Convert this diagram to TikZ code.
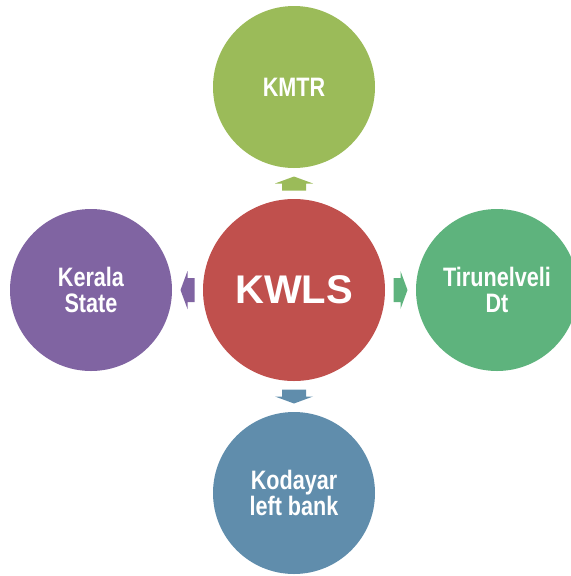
\documentclass[tikz,border=0pt]{standalone}
\usepackage{fontspec}
\setmainfont{Liberation Sans}
\newfontfamily\narrowfont[FakeStretch=0.81]{Liberation Sans}
\usetikzlibrary{positioning,calc}

\definecolor{kwlsred}{HTML}{C0504D}
\definecolor{kmtrgreen}{HTML}{9BBB59}
\definecolor{tirugreen}{HTML}{5EB37D}
\definecolor{kodablue}{HTML}{608DAC}
\definecolor{keralapurple}{HTML}{8064A2}

\tikzset{every picture/.style={line width=0.75pt}}
\tikzset{
  hub/.style={circle, inner sep=0pt, minimum size=136.5pt, text=white,
    font=\fontsize{30}{30}\selectfont\bfseries},
  spoke/.style={circle, inner sep=0pt, minimum size=121.5pt, text=white, align=center,
    font=\narrowfont\fontsize{20}{20}\selectfont\bfseries},
  blockarr/.pic={\path[pic actions] (-7,-12) -- (0,-12) -- (0,-19) -- (7,0) -- (0,19) -- (0,12) -- (-7,12) -- cycle;}
}

\begin{document}
\begin{tikzpicture}[x=0.75pt,y=0.75pt,yscale=-1,xscale=1,node distance=22.5pt]
\useasboundingbox (0,0) rectangle (571,576);

% centre
\node[hub, fill=kwlsred] (kwls) at (294,290) {KWLS};
% the four around it
\node[spoke, fill=kmtrgreen, above=of kwls] (kmtr) {KMTR};
\node[spoke, fill=tirugreen, right=of kwls] (tiru) {Tirunelveli\\Dt};
\node[spoke, fill=kodablue, below=of kwls] (koda) {Kodayar\\left bank};
\node[spoke, fill=keralapurple, left=of kwls] (kerala) {Kerala\\State};

% block arrows
\pic[fill=kmtrgreen, rotate=90] at ($(kwls.north)!0.5!(kmtr.south)$) {blockarr};
\pic[fill=tirugreen] at ($(kwls.east)!0.5!(tiru.west)$) {blockarr};
\pic[fill=kodablue, rotate=-90] at ($(kwls.south)!0.5!(koda.north)$) {blockarr};
\pic[fill=keralapurple, rotate=180] at ($(kwls.west)!0.5!(kerala.east)$) {blockarr};

\end{tikzpicture}
\end{document}
